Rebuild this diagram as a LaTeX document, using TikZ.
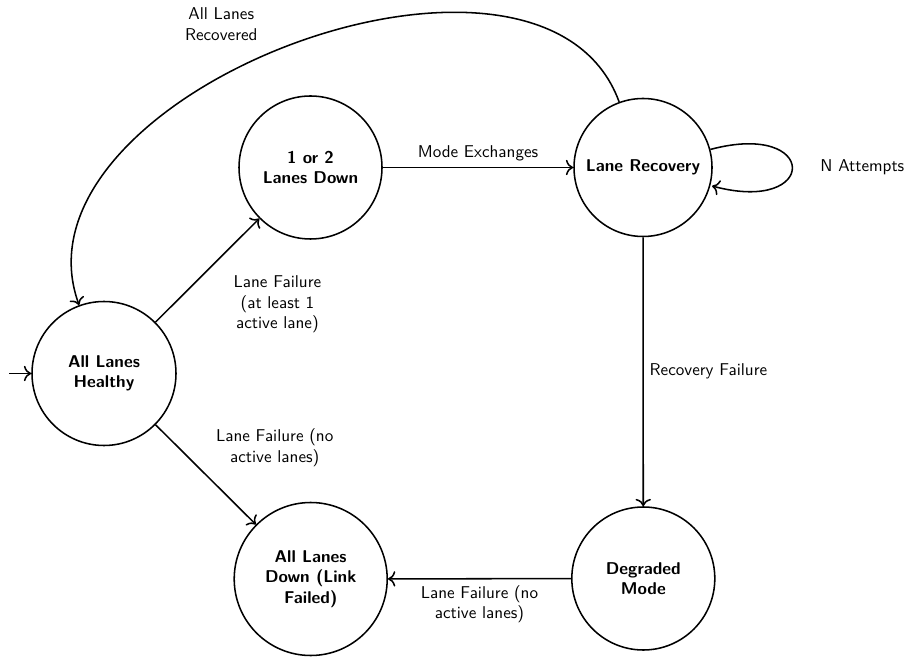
\documentclass[tikz,border=0pt]{standalone}
\usetikzlibrary{arrows.meta}
\begin{document}
\begin{tikzpicture}[x=0.585pt, y=0.585pt, font=\sffamily, >={To[scale=1.2]},
  statenode/.style={circle, draw, line width=0.9pt, inner sep=0pt, align=center, font=\sffamily\bfseries},
  dia/.style={minimum size=#1*0.585pt},
  lbl/.style={align=center, font=\sffamily},
  trans/.style={->, line width=0.9pt}]
  \useasboundingbox (0,0) rectangle (909,656);

  % states
  \node[statenode, dia=144] (healthy)  at (104,282.5)  {All Lanes\\Healthy};
  \node[statenode, dia=143] (down12)   at (310.5,488.5) {1 or 2\\Lanes Down};
  \node[statenode, dia=138] (recovery) at (643,488.5)   {Lane Recovery};
  \node[statenode, dia=143] (degraded) at (643.3,77.5)  {Degraded\\Mode};
  \node[statenode, dia=153] (alldown)  at (310.7,77)    {All Lanes\\Down (Link\\Failed)};

  % initial arrow
  \coordinate (init) at (9,282.5);
  \draw[trans] (init) -- (healthy);

  % transitions
  \draw[trans] (healthy) -- node[lbl, shift={(70,-34)}] (lfone)
    {Lane Failure\\(at least 1\\active lane)} (down12);
  \draw[trans] (healthy) -- node[lbl, shift={(69,27)}] (lfnone)
    {Lane Failure (no\\active lanes)} (alldown);
  \draw[trans] (down12) -- node[lbl, above] (modex) {Mode Exchanges} (recovery);
  \path (recovery) edge[trans, loop right] node[lbl, shift={(22,0)}] (natt) {N Attempts} ();
  \draw[trans] (recovery) -- node[lbl, right] (recfail) {Recovery Failure} (degraded);
  \draw[trans] (degraded) -- node[lbl, below] (lfdeg)
    {Lane Failure (no\\active lanes)} (alldown);
  \draw[trans] (recovery) to[out=110, in=110] node[lbl, shift={(-70,20.5)}] (allrec)
    {All Lanes\\Recovered} (healthy);
\end{tikzpicture}
\end{document}
